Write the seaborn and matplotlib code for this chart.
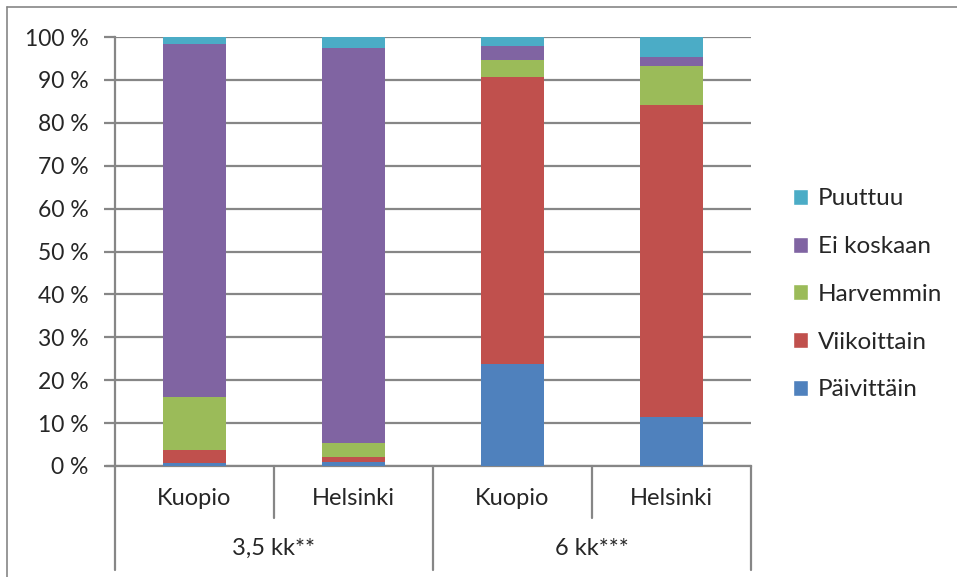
import matplotlib
matplotlib.use('Agg')
import matplotlib.pyplot as plt
import seaborn as sns
import pandas as pd
from matplotlib.lines import Line2D
from matplotlib.patches import Patch

# data (percent)
bars = ['Kuopio 3,5', 'Helsinki 3,5', 'Kuopio 6', 'Helsinki 6']
places = ['Kuopio', 'Helsinki', 'Kuopio', 'Helsinki']
ages = ['3,5 kk**', '6 kk***']
series = ['Päivittäin', 'Viikoittain', 'Harvemmin', 'Ei koskaan', 'Puuttuu']
paivittain = [0.6, 0.9, 23.7, 11.4]
viikoittain = [3.2, 1.2, 66.9, 72.7]
harvemmin = [12.3, 3.3, 4.0, 9.1]
ei_koskaan = [82.3, 92.0, 3.2, 2.1]
puuttuu = [1.6, 2.6, 2.2, 4.7]
colors = ['#4F81BD', '#C0504D', '#9BBB59', '#8064A2', '#4BACC6']

df = pd.DataFrame({'bar': bars, 'Päivittäin': paivittain, 'Viikoittain': viikoittain,
                   'Harvemmin': harvemmin, 'Ei koskaan': ei_koskaan, 'Puuttuu': puuttuu})

sns.set_style('white')
plt.rcParams['font.family'] = ['Lato', 'DejaVu Sans']
grid_col = '#868686'
fs = 17

fig = plt.figure(figsize=(9.57, 5.77), dpi=100)
ax = fig.add_axes([115 / 957, 111 / 577, 636 / 957, 429 / 577])

bottom = [0.0] * 4
for s, c in zip(series, colors):
    sns.barplot(data=df, x='bar', y=s, order=bars, color=c, width=0.4, saturation=1,
                bottom=bottom, ax=ax, zorder=3, linewidth=0)
    bottom = [b + v for b, v in zip(bottom, df[s])]

ax.set_xlim(-0.5, 3.5)
ax.set_ylim(0, 100)
ax.set_yticks(range(0, 101, 10))
ax.set_yticklabels([f'{v} %' for v in range(0, 101, 10)], fontsize=16.5)
ax.yaxis.grid(True, color=grid_col, linewidth=1.6, zorder=0)
ax.set_xticks([])
ax.set_xlabel('')
ax.set_ylabel('')
ax.tick_params(axis='y', length=8, width=1.6, color=grid_col, left=True, pad=11)
for side in ['top', 'right']:
    ax.spines[side].set_visible(False)
for side in ['left', 'bottom']:
    ax.spines[side].set_color(grid_col)
    ax.spines[side].set_linewidth(1.6)
ax.spines['bottom'].set_bounds(-0.55, 3.5)

# category axis: separators and two-level labels
tr = ax.get_xaxis_transform()
for x in [-0.5, 1.5, 3.5]:
    ax.plot([x, x], [0, -0.242], color=grid_col, lw=1.6, transform=tr, clip_on=False)
for x in [0.5, 2.5]:
    ax.plot([x, x], [0, -0.121], color=grid_col, lw=1.6, transform=tr, clip_on=False)
for i, p in enumerate(places):
    ax.text(i, -0.075, p, transform=tr, ha='center', va='center', fontsize=fs)
for i, a in enumerate(ages):
    ax.text(0.5 + 2 * i, -0.193, a, transform=tr, ha='center', va='center', fontsize=fs)

handles = [Patch(facecolor=c, label=s) for s, c in zip(series, colors)][::-1]
ax.legend(handles=handles, loc='center left', bbox_to_anchor=(1.05, 0.40), frameon=False,
          fontsize=17.5, handlelength=0.65, handleheight=0.65, handletextpad=0.4,
          labelspacing=1.1, borderaxespad=0)

# outer chart border (top and left visible)
fig.add_artist(Line2D([7 / 957, 1.0], [1 - 7 / 577, 1 - 7 / 577], color=grid_col, lw=1.2))
fig.add_artist(Line2D([7 / 957, 7 / 957], [0, 1 - 7 / 577], color=grid_col, lw=1.2))

fig.savefig('out.png', dpi=100)
